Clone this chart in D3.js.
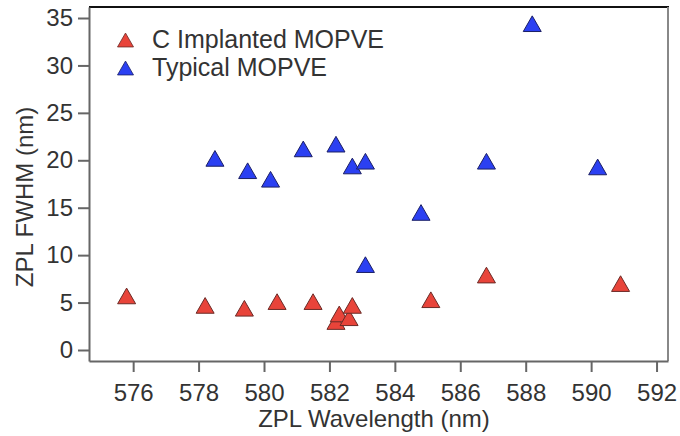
<!DOCTYPE html>
<html>
<head>
<meta charset="utf-8">
<script src="https://cdn.jsdelivr.net/npm/d3@7"></script>
<style>
  body { margin: 0; background: #fff; }
  svg text { font-family: "Liberation Sans", Arial, Helvetica, sans-serif; fill: #333; }
</style>
</head>
<body>
<svg width="680" height="436"></svg>
<script>
// values
var implantedX = [575.8, 578.2, 579.4, 580.4, 581.5, 582.2, 582.3, 582.6, 582.7, 585.1, 586.8, 590.9];
var implantedY = [5.7, 4.7, 4.4, 5.1, 5.1, 3.0, 3.8, 3.4, 4.7, 5.3, 7.9, 7.0];
var typicalX = [578.5, 579.5, 580.2, 581.2, 582.2, 582.7, 583.1, 583.1, 584.8, 586.8, 588.2, 590.2];
var typicalY = [20.2, 18.9, 18.0, 21.2, 21.7, 19.4, 19.9, 9.0, 14.5, 19.9, 34.4, 19.3];
var xTicks = [576, 578, 580, 582, 584, 586, 588, 590, 592];
var yTicks = [0, 5, 10, 15, 20, 25, 30, 35];
var seriesNames = ["C Implanted MOPVE", "Typical MOPVE"];

var svg = d3.select("svg"),
  plotLeft = 89, plotRight = 668, plotTop = 7, plotBottom = 361;

var x = d3.scaleLinear().domain([574.65, 592.35]).range([plotLeft, plotRight]),
  y = d3.scaleLinear().domain([-1.16, 36.16]).range([plotBottom, plotTop]);

var axisColor = "#666";

// frame: top and right
svg.append("line")
  .attr("x1", plotLeft).attr("x2", plotRight + 1).attr("y1", plotTop).attr("y2", plotTop)
  .attr("stroke", "#111").attr("stroke-width", 2);
svg.append("line")
  .attr("x1", plotRight).attr("x2", plotRight).attr("y1", plotTop).attr("y2", plotBottom)
  .attr("stroke", "#888").attr("stroke-width", 2);

var gx = svg.append("g")
  .attr("transform", "translate(0," + plotBottom + ")")
  .call(d3.axisBottom(x).tickValues(xTicks).tickSize(11).tickSizeOuter(0).tickPadding(12));

var gy = svg.append("g")
  .attr("transform", "translate(" + plotLeft + ",0)")
  .call(d3.axisLeft(y).tickValues(yTicks).tickSize(11).tickSizeOuter(0).tickPadding(5));

[gx, gy].forEach(function(g) {
  g.select(".domain").attr("stroke", axisColor).attr("stroke-width", 2);
  g.selectAll(".tick line").attr("stroke", axisColor).attr("stroke-width", 2);
  g.selectAll(".tick text").attr("font-size", 24).attr("fill", "#333")
    .attr("font-family", "Liberation Sans, Arial, sans-serif");
});

// axis titles
svg.append("text")
  .attr("x", 374).attr("y", 427)
  .attr("text-anchor", "middle")
  .attr("font-size", 24)
  .text("ZPL Wavelength (nm)");

svg.append("text")
  .attr("transform", "translate(33,197) rotate(-90)")
  .attr("text-anchor", "middle")
  .attr("font-size", 24)
  .text("ZPL FWHM (nm)");

// triangle marker, centred on its bounding box
function tri(w) {
  var h = w * 0.87;
  return "M0," + (-h / 2) + "L" + (w / 2) + "," + (h / 2) + "L" + (-w / 2) + "," + (h / 2) + "Z";
}

var series = [
  { name: seriesNames[0], xs: implantedX, ys: implantedY, fill: "#e8443a", stroke: "#6b2a26" },
  { name: seriesNames[1], xs: typicalX, ys: typicalY, fill: "#2b40f2", stroke: "#1b1f66" }
];

// typical first so implanted sits on top
[series[1], series[0]].forEach(function(s) {
  var pts = s.xs.map(function(v, i) { return { x: v, y: s.ys[i] }; });
  svg.append("g").selectAll("path")
    .data(pts)
    .enter().append("path")
    .attr("d", tri(18))
    .attr("transform", function(d) { return "translate(" + x(d.x) + "," + y(d.y) + ")"; })
    .attr("fill", s.fill)
    .attr("stroke", s.stroke)
    .attr("stroke-width", 1);
});

// legend
var legend = svg.append("g");
series.forEach(function(s, i) {
  var ly = 40 + i * 28;
  legend.append("path")
    .attr("d", tri(16))
    .attr("transform", "translate(125.5," + ly + ")")
    .attr("fill", s.fill)
    .attr("stroke", s.stroke)
    .attr("stroke-width", 0.8);
  legend.append("text")
    .attr("x", 152).attr("y", ly + 8)
    .attr("font-size", 25)
    .text(s.name);
});
</script>
</body>
</html>
